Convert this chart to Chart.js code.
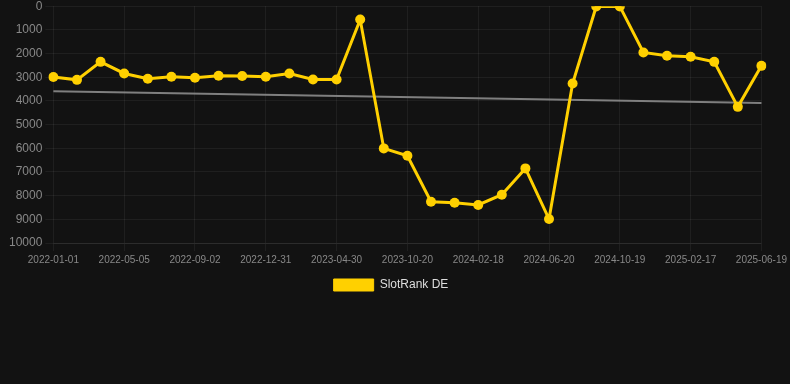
<!DOCTYPE html>
<html>
<head>
<meta charset="utf-8">
<script src="https://cdn.jsdelivr.net/npm/chart.js@4/dist/chart.umd.min.js"></script>
<style>
  html, body { margin: 0; padding: 0; background: #121212; overflow: hidden; }
  #wrap { width: 790px; height: 305px; position: relative; margin-top: -4px; }
</style>
</head>
<body>
<div id="wrap"><canvas id="c"></canvas></div>
<script>
const categories = [
  '2022-01-01','2022-02-11','2022-03-24','2022-05-05','2022-06-14','2022-07-24',
  '2022-09-02','2022-10-12','2022-11-21','2022-12-31','2023-02-08','2023-03-21',
  '2023-04-30','2023-06-27','2023-08-23','2023-10-20','2023-11-30','2024-01-09',
  '2024-02-18','2024-03-30','2024-05-10','2024-06-20','2024-07-30','2024-09-08',
  '2024-10-19','2024-11-28','2025-01-07','2025-02-17','2025-03-29','2025-05-09',
  '2025-06-19'
];
const slotRankDE = [
  2990, 3110, 2350, 2840, 3065, 2980, 3025, 2940, 2950, 2980, 2840, 3095,
  3095, 565, 6005, 6315, 8255, 8300, 8395, 7960, 6850, 8990,
  3265, 10, 10, 1955, 2095, 2135, 2350, 4250, 2520
];
const trendStart = 3590;
const trendEnd = 4090;
const trendData = categories.map((_, i) => i === 0 ? trendStart : (i === categories.length - 1 ? trendEnd : null));
const yTicks = [0, 1000, 2000, 3000, 4000, 5000, 6000, 7000, 8000, 9000, 10000];

const gold = 'rgb(255, 208, 0)';
const gridColor = 'rgba(255,255,255,0.06)';

new Chart(document.getElementById('c'), {
  type: 'line',
  data: {
    labels: categories,
    datasets: [
      {
        label: 'SlotRank DE',
        data: slotRankDE,
        borderColor: gold,
        backgroundColor: gold,
        borderWidth: 3,
        pointRadius: 5,
        pointBorderWidth: 0,
        pointHoverRadius: 5,
        pointBackgroundColor: gold,
        pointBorderColor: gold,
        tension: 0
      },
      {
        label: 'trend',
        data: trendData,
        borderColor: 'rgba(140,140,140,0.9)',
        borderWidth: 2,
        pointRadius: 0,
        spanGaps: true,
        tension: 0
      }
    ]
  },
  plugins: [{
    id: 'shiftLegend',
    afterLayout(chart) { if (chart.legend) { chart.legend.left -= 10; } }
  }],
  options: {
    responsive: true,
    maintainAspectRatio: false,
    animation: false,
    layout: { padding: { left: 6, right: 4, top: 0, bottom: 0 } },
    plugins: {
      legend: {
        position: 'bottom',
        labels: {
          color: '#dddddd',
          font: { family: 'Liberation Sans, Arial, sans-serif', size: 12 },
          boxWidth: 40,
          boxHeight: 12,
          filter: item => item.text !== 'trend',
          generateLabels: chart => Chart.defaults.plugins.legend.labels.generateLabels(chart)
            .map(it => Object.assign(it, { lineWidth: 1 }))
        }
      },
      tooltip: { enabled: false }
    },
    scales: {
      x: {
        type: 'category',
        afterBuildTicks: axis => { axis.ticks = axis.ticks.filter((t, i) => i % 3 === 0); },
        ticks: {
          autoSkip: false,
          maxRotation: 0,
          color: '#888888',
          font: { family: 'Liberation Sans, Arial, sans-serif', size: 10 }
        },
        grid: { color: gridColor, tickColor: gridColor },
        border: { color: gridColor }
      },
      y: {
        reverse: true,
        min: 0,
        max: 10000,
        afterBuildTicks: axis => { axis.ticks = yTicks.map(v => ({ value: v })); },
        ticks: {
          color: '#888888',
          font: { family: 'Liberation Sans, Arial, sans-serif', size: 12 },
          callback: v => String(v)
        },
        grid: { color: gridColor, tickColor: gridColor },
        border: { display: false }
      }
    }
  }
});
</script>
</body>
</html>
